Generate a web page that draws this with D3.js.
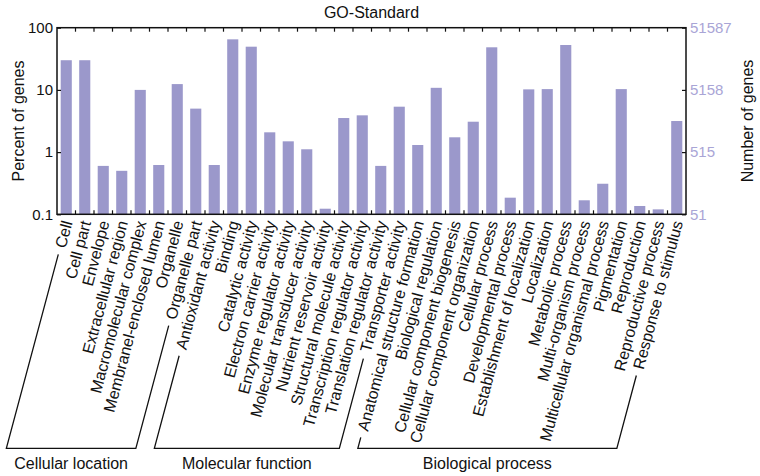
<!DOCTYPE html>
<html>
<head>
<meta charset="utf-8">
<script src="https://cdn.jsdelivr.net/npm/d3@7"></script>
<style>
  html, body { margin: 0; padding: 0; background: #fff; }
  svg { display: block; font-family: "Liberation Sans", Arial, sans-serif; }
</style>
</head>
<body>
<svg id="chart" width="760" height="476"></svg>
<script>
// ---------- data ----------
const categories = [
  "Cell", "Cell part", "Envelope", "Extracellular region", "Macromolecular complex",
  "Membranel-enclosed lumen", "Organelle", "Organelle part",
  "Antioxidant activity", "Binding", "Catalytic activity", "Electron carrier activity",
  "Enzyme regulator activity", "Molecular transducer activity", "Nutrient reservoir activity",
  "Structural molecule activity", "Transcription regulator activity", "Translation regulator activity",
  "Transporter activity",
  "Anatomical structure formation", "Biological regulation", "Cellular component biogenesis",
  "Cellular component organization", "Cellular process", "Developmental process",
  "Establishment of localization", "Localization", "Metabolic process", "Multi-organism process",
  "Multicellular organismal process", "Pigmentation", "Reproduction", "Reproductive process",
  "Response to stimulus"
];
const percentValues = [
  30, 30, 0.6, 0.5, 10, 0.62, 12.4, 5.0,
  0.62, 65, 49.5, 2.08, 1.49, 1.11, 0.123, 3.53, 3.9, 0.6, 5.37,
  1.3, 10.8, 1.73, 3.08, 48.4, 0.185, 10.2, 10.3, 52.7, 0.168, 0.31, 10.3, 0.136, 0.12, 3.16
];
const groupNames = ["Cellular location", "Molecular function", "Biological process"];
const groupFirst = ["Cell", "Antioxidant activity", "Anatomical structure formation"];
const groupLast = ["Organelle part", "Transporter activity", "Response to stimulus"];
const leftTickValues = [0.1, 1, 10, 100];
const leftTickLabels = ["0.1", "1", "10", "100"];
const rightTickLabels = ["51", "515", "5158", "51587"];
const titleText = "GO-Standard";
const leftAxisTitle = "Percent of genes";
const rightAxisTitle = "Number of genes";

// ---------- layout ----------
const L = 57, R = 686, T = 27.7, B = 214.3;
const barColor = "#9b98cb";
const rightColor = "#a9a5d6";
const ink = "#111";
const angle = -75;

const svg = d3.select("#chart");

const x = d3.scaleBand().domain(categories).range([L, R]).paddingInner(0.4).paddingOuter(0.2);
const y = d3.scaleLog().domain([0.1, 100]).range([B, T]);
const yRight = d3.scaleOrdinal().domain(leftTickValues).range(rightTickLabels);

// bars
svg.append("g").selectAll("rect")
  .data(categories.map((c, i) => ({ c, v: percentValues[i] })))
  .join("rect")
  .attr("x", d => x(d.c))
  .attr("width", x.bandwidth())
  .attr("y", d => y(d.v))
  .attr("height", d => B - y(d.v))
  .attr("fill", barColor);

// ticks on band boundaries (top & bottom)
const bx = d3.scaleLinear().domain([0, categories.length]).range([L, R]);
const bTicks = d3.range(1, categories.length);
svg.append("g").selectAll("line").data(bTicks).join("line")
  .attr("x1", d => bx(d)).attr("x2", d => bx(d))
  .attr("y1", T).attr("y2", T + 4)
  .attr("stroke", ink).attr("stroke-width", 1.2);
svg.append("g").selectAll("line").data(bTicks).join("line")
  .attr("x1", d => bx(d)).attr("x2", d => bx(d))
  .attr("y1", B).attr("y2", B - 4)
  .attr("stroke", ink).attr("stroke-width", 1.2);

// left axis
const leftAxis = d3.axisLeft(y).tickValues(leftTickValues)
  .tickFormat((d, i) => leftTickLabels[i]).tickSizeInner(-4).tickSizeOuter(0).tickPadding(4);
const gL = svg.append("g").attr("transform", `translate(${L},0)`).call(leftAxis);
gL.select(".domain").remove();
gL.selectAll("line").attr("stroke", ink).attr("stroke-width", 1.2);
gL.selectAll("text").attr("font-size", 15).attr("fill", ink)
  .attr("font-family", "'Liberation Sans', Arial, sans-serif");

// right axis
const rightAxis = d3.axisRight(y).tickValues(leftTickValues)
  .tickFormat(d => yRight(d)).tickSizeInner(-4).tickSizeOuter(0).tickPadding(4);
const gR = svg.append("g").attr("transform", `translate(${R},0)`).call(rightAxis);
gR.select(".domain").remove();
gR.selectAll("line").attr("stroke", ink).attr("stroke-width", 1.2);
gR.selectAll("text").attr("font-size", 15).attr("fill", rightColor)
  .attr("font-family", "'Liberation Sans', Arial, sans-serif");

// frame
svg.append("rect").attr("x", L).attr("y", T).attr("width", R - L).attr("height", B - T)
  .attr("fill", "none").attr("stroke", ink).attr("stroke-width", 1.5);

// title & axis titles
svg.append("text").attr("x", (L + R) / 2).attr("y", 18).attr("text-anchor", "middle")
  .attr("font-size", 16).attr("fill", ink).text(titleText);
svg.append("text").attr("transform", `translate(24,${(T + B) / 2}) rotate(-90)`)
  .attr("text-anchor", "middle").attr("font-size", 16).attr("fill", ink).text(leftAxisTitle);
svg.append("text").attr("transform", `translate(753,${(T + B) / 2}) rotate(-90)`)
  .attr("text-anchor", "middle").attr("font-size", 16).attr("fill", ink).text(rightAxisTitle);

// category labels
const labelY = 221;
const labels = svg.append("g").selectAll("text").data(categories).join("text")
  .attr("transform", d => `translate(${x(d) + x.bandwidth() / 2 + 1},${labelY}) rotate(${angle})`)
  .attr("text-anchor", "end").attr("dy", "0.35em")
  .attr("font-size", 16).attr("fill", ink).text(d => d);

// label end points (bottom-left end of each rotated label)
const rad = angle * Math.PI / 180;
const dir = [-Math.cos(rad), -Math.sin(rad)]; // direction from label end toward start (down-left)
function labelEnd(name) {
  const node = labels.filter(d => d === name).node();
  const len = node.getComputedTextLength();
  const cx = x(name) + x.bandwidth() / 2 + 1;
  return [cx + dir[0] * len, labelY + dir[1] * len];
}

// group brackets
const bracketY = 448.3;
const lineAng = 75 * Math.PI / 180;
const gap = 7;
groupNames.forEach((g, i) => {
  const a = labelEnd(groupFirst[i]);
  const b = labelEnd(groupLast[i]);
  const a0 = [a[0] - Math.cos(lineAng) * gap, a[1] + Math.sin(lineAng) * gap];
  const b0 = [b[0] - Math.cos(lineAng) * gap, b[1] + Math.sin(lineAng) * gap];
  const aBot = [a0[0] - (bracketY - a0[1]) / Math.tan(lineAng), bracketY];
  const bBot = [b0[0] - (bracketY - b0[1]) / Math.tan(lineAng), bracketY];
  svg.append("path")
    .attr("d", d3.line()([a0, aBot, bBot, b0]))
    .attr("fill", "none").attr("stroke", ink).attr("stroke-width", 1.3);
  svg.append("text").attr("x", (aBot[0] + bBot[0]) / 2).attr("y", 469)
    .attr("text-anchor", "middle").attr("font-size", 16).attr("fill", ink).text(g);
});
</script>
</body>
</html>
